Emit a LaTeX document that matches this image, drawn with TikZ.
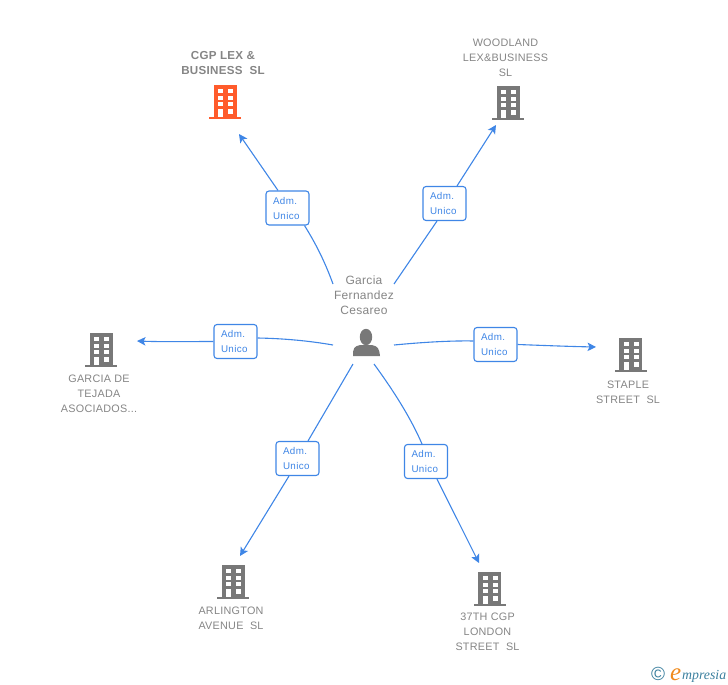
\documentclass[tikz,border=0pt]{standalone}
\usepackage{fontspec}
\setmainfont{Liberation Sans}
\newfontfamily\nmfont[LetterSpace=2.5]{Liberation Sans}
\newfontfamily\admfont[LetterSpace=4]{Liberation Sans}
\newfontfamily\logofont{Liberation Serif}
\usetikzlibrary{arrows.meta}
\definecolor{conn}{HTML}{3F86E6}
\definecolor{grayic}{HTML}{787878}
\definecolor{grayt}{HTML}{858585}
\definecolor{orangeic}{HTML}{FF5B2B}
\definecolor{logoteal}{HTML}{3A7F9E}
\definecolor{logoor}{HTML}{F08A1D}
\tikzset{
  x=1pt,y=-1pt,
  conline/.style={conn,line width=1.1pt},
  arrowline/.style={conn,line width=1.1pt,-{Stealth[length=8.5pt,width=8.5pt,inset=2pt]}},
  admbox/.style={draw=conn,line width=1.1pt,rounded corners=3pt,fill=white,minimum width=43pt,minimum height=34pt,inner sep=0pt,text width=29pt,align=left,text=conn,font=\admfont\fontsize{9.8}{15}\selectfont},
  coname/.style={text=grayt,align=center,inner sep=0pt,font=\nmfont\fontsize{10.8}{15}\selectfont},
  coboldname/.style={text=grayt,align=center,inner sep=0pt,font=\nmfont\bfseries\fontsize{11.6}{15}\selectfont},
  pername/.style={text=grayt,align=center,inner sep=0pt,font=\nmfont\fontsize{12}{15}\selectfont},
  bldg/.pic={
    \fill[pic actions] (-11.5,-17) rectangle (11.5,15);
    \fill[pic actions] (-16,14.5) rectangle (16,17);
    \foreach \xx in {-7,3}{\foreach \yy in {-13,-6,0}{\fill[white] (\xx,\yy) rectangle ++(5,4);}}
    \fill[white] (3,7) rectangle ++(5,4.5);
    \fill[white] (-7,7) rectangle ++(5,8);
  }
}
\begin{document}
\begin{tikzpicture}
\useasboundingbox (0,0) rectangle (728,685);
% buildings
\pic[fill=orangeic] at (225,102) {bldg};
\pic[fill=grayic] at (508,103) {bldg};
\pic[fill=grayic] at (101,350) {bldg};
\pic[fill=grayic] at (630.5,355) {bldg};
\pic[fill=grayic] at (233,582) {bldg};
\pic[fill=grayic] at (489.5,589) {bldg};
% person
\fill[grayic] (366,337) ellipse [x radius=6.2,y radius=8.2];
\fill[grayic] (353,356) .. controls (353,348) and (354,346.5) .. (360,345) -- (372,345) .. controls (378,346.5) and (379,348) .. (380,356) -- cycle;
% names
\node[coboldname] (n1) at (223,63.5) {CGP LEX \&\\BUSINESS\ \ SL};
\node[coname] (n2) at (505.5,57.5) {WOODLAND\\LEX\&BUSINESS\\SL};
\node[coname] (n3) at (99,393.5) {GARCIA DE\\TEJADA\\ASOCIADOS...};
\node[coname] (n4) at (628,392) {STAPLE\\STREET\ \ SL};
\node[coname] (n5) at (231,618.5) {ARLINGTON\\AVENUE\ \ SL};
\node[coname] (n6) at (487.5,632) {37TH CGP\\LONDON\\STREET\ \ SL};
\node[pername] (p) at (364,295) {Garcia\\Fernandez\\Cesareo};
% labels
\node[admbox] (a1) at (287.5,208) {Adm.\\Unico};
\node[admbox] (a2) at (444.5,203.5) {Adm.\\Unico};
\node[admbox] (a3) at (235.5,341.5) {Adm.\\Unico};
\node[admbox] (a4) at (495.5,344.5) {Adm.\\Unico};
\node[admbox] (a5) at (297.5,458.5) {Adm.\\Unico};
\node[admbox] (a6) at (426,461.5) {Adm.\\Unico};
% free ends
\coordinate (s1) at (333,284); \coordinate (e1) at (239,134);
\coordinate (s2) at (394,284); \coordinate (e2) at (496,125);
\coordinate (s3) at (333,345); \coordinate (e3) at (137,341);
\coordinate (s4) at (394,345); \coordinate (e4) at (596,347);
\coordinate (s5) at (353,364); \coordinate (e5) at (240,556);
\coordinate (s6) at (374,364); \coordinate (e6) at (479,563);
% connectors
\draw[conline] (s1) .. controls (325,262) and (316,244) .. ([xshift=17pt]a1.south);
\draw[arrowline] ([xshift=-9.5pt]a1.north) -- (e1);
\draw[conline] (s2) -- ([xshift=-7.5pt]a2.south);
\draw[arrowline] ([xshift=12.5pt]a2.north) -- (e2);
\draw[conline] (s3) .. controls (310,341) and (285,338.5) .. ([yshift=3.5pt]a3.east);
\draw[arrowline] (a3.west) .. controls (190,341.5) and (165,342) .. (e3);
\draw[conline] (s4) .. controls (420,342.5) and (450,340.5) .. ([yshift=3.5pt]a4.west);
\draw[arrowline] ([yshift=0pt]a4.east) .. controls (545,345.5) and (570,346.5) .. (e4);
\draw[conline] (s5) -- ([xshift=10.5pt]a5.north);
\draw[arrowline] ([xshift=-8.5pt]a5.south) -- (e5);
\draw[conline] (s6) .. controls (390,386) and (409,414) .. ([xshift=-4pt]a6.north);
\draw[arrowline] ([xshift=11pt]a6.south) -- (e6);
% logo
\node[inner sep=0pt,text=logoteal,font=\fontsize{19}{19}\selectfont] (c) at (658,674) {©};
\node[anchor=base west,inner sep=0pt,text=logoor,font=\logofont\itshape\fontsize{25}{25}\selectfont] (l1) at (670,680) {e};
\node[anchor=base west,inner sep=0pt,text=logoteal,font=\logofont\itshape\fontsize{13.8}{14}\selectfont] (l2) at (682,679) {mpresia};
\end{tikzpicture}
\end{document}
